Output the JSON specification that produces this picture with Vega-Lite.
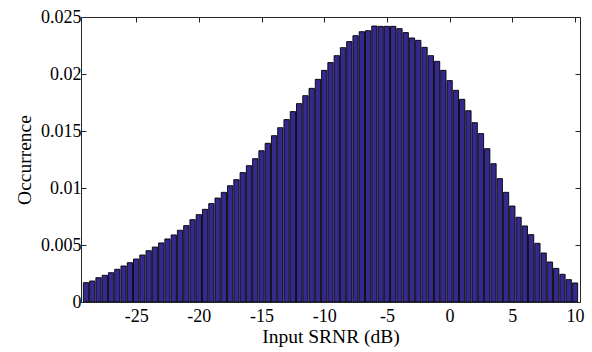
{
  "$schema": "https://vega.github.io/schema/vega-lite/v6.json",
  "width": 499,
  "height": 285,
  "autosize": {"type": "none"},
  "padding": {"left": 81, "top": 17, "right": 12, "bottom": 50},
  "background": "white",
  "config": {
    "font": "Liberation Serif",
    "view": {"stroke": null},
    "axis": {
      "labelFont": "Liberation Serif",
      "titleFont": "Liberation Serif",
      "labelFontSize": 18,
      "titleFontSize": 19.5,
      "titleFontWeight": "normal",
      "labelColor": "#000000",
      "titleColor": "#000000",
      "domainColor": "#262626",
      "tickColor": "#262626",
      "tickSize": -5,
      "grid": false
    }
  },
  "data": {
    "values": [
      {"c": -29, "p": 0.0017}, {"c": -28.5, "p": 0.00184}, {"c": -28, "p": 0.00213}, {"c": -27.5, "p": 0.00234},
      {"c": -27, "p": 0.00257}, {"c": -26.5, "p": 0.00287}, {"c": -26, "p": 0.00316}, {"c": -25.5, "p": 0.00345},
      {"c": -25, "p": 0.00377}, {"c": -24.5, "p": 0.00412}, {"c": -24, "p": 0.0045}, {"c": -23.5, "p": 0.00482},
      {"c": -23, "p": 0.00518}, {"c": -22.5, "p": 0.00553}, {"c": -22, "p": 0.00588}, {"c": -21.5, "p": 0.00629},
      {"c": -21, "p": 0.0067}, {"c": -20.5, "p": 0.00722}, {"c": -20, "p": 0.00766}, {"c": -19.5, "p": 0.00813},
      {"c": -19, "p": 0.00863}, {"c": -18.5, "p": 0.00912}, {"c": -18, "p": 0.00962}, {"c": -17.5, "p": 0.0102},
      {"c": -17, "p": 0.01073}, {"c": -16.5, "p": 0.01135}, {"c": -16, "p": 0.01196}, {"c": -15.5, "p": 0.01257},
      {"c": -15, "p": 0.01327}, {"c": -14.5, "p": 0.01392}, {"c": -14, "p": 0.01459}, {"c": -13.5, "p": 0.01529},
      {"c": -13, "p": 0.016}, {"c": -12.5, "p": 0.0167}, {"c": -12, "p": 0.0174}, {"c": -11.5, "p": 0.0181},
      {"c": -11, "p": 0.01874}, {"c": -10.5, "p": 0.01953}, {"c": -10, "p": 0.02032}, {"c": -9.5, "p": 0.021},
      {"c": -9, "p": 0.02161}, {"c": -8.5, "p": 0.02231}, {"c": -8, "p": 0.02284}, {"c": -7.5, "p": 0.02336},
      {"c": -7, "p": 0.02371}, {"c": -6.5, "p": 0.0238}, {"c": -6, "p": 0.02421}, {"c": -5.5, "p": 0.02418},
      {"c": -5, "p": 0.02418}, {"c": -4.5, "p": 0.02418}, {"c": -4, "p": 0.02398}, {"c": -3.5, "p": 0.02363},
      {"c": -3, "p": 0.02316}, {"c": -2.5, "p": 0.02295}, {"c": -2, "p": 0.02234}, {"c": -1.5, "p": 0.02161},
      {"c": -1, "p": 0.02111}, {"c": -0.5, "p": 0.02032}, {"c": 0, "p": 0.01942}, {"c": 0.5, "p": 0.01857},
      {"c": 1, "p": 0.01778}, {"c": 1.5, "p": 0.01678}, {"c": 2, "p": 0.01573}, {"c": 2.5, "p": 0.01477},
      {"c": 3, "p": 0.01345}, {"c": 3.5, "p": 0.01213}, {"c": 4, "p": 0.01082}, {"c": 4.5, "p": 0.00962},
      {"c": 5, "p": 0.00842}, {"c": 5.5, "p": 0.00743}, {"c": 6, "p": 0.00667}, {"c": 6.5, "p": 0.00591},
      {"c": 7, "p": 0.00515}, {"c": 7.5, "p": 0.0043}, {"c": 8, "p": 0.00351}, {"c": 8.5, "p": 0.00295},
      {"c": 9, "p": 0.00243}, {"c": 9.5, "p": 0.00196}, {"c": 10, "p": 0.00167}
    ]
  },
  "layer": [
    {
      "mark": {"type": "bar", "size": 5.3, "fill": "#35298f", "stroke": "#000000", "strokeWidth": 0.9, "clip": true, "cornerRadius": 0},
      "encoding": {
        "x": {
          "field": "c", "type": "quantitative",
          "scale": {"domain": [-29, 10], "nice": false, "zero": false},
          "axis": {"orient": "bottom", "values": [-25, -20, -15, -10, -5, 0, 5, 10], "labelExpr": "'' + datum.value", "title": "Input SRNR (dB)", "labelPadding": 10, "titlePadding": 2, "labelFlush": false}
        },
        "y": {
          "field": "p", "type": "quantitative",
          "scale": {"domain": [0, 0.025], "nice": false},
          "axis": {"orient": "left", "values": [0, 0.005, 0.01, 0.015, 0.02, 0.025], "format": "~g", "title": "Occurrence", "labelPadding": 5, "titlePadding": 6}
        }
      }
    },
    {
      "mark": {"type": "bar", "opacity": 0, "size": 1},
      "encoding": {
        "x": {
          "field": "c", "type": "quantitative",
          "scale": {"domain": [-29, 10], "nice": false, "zero": false},
          "axis": {"orient": "top", "values": [-25, -20, -15, -10, -5, 0, 5, 10], "labels": false, "title": null}
        },
        "y": {
          "field": "p", "type": "quantitative",
          "scale": {"domain": [0, 0.025], "nice": false},
          "axis": {"orient": "right", "values": [0, 0.005, 0.01, 0.015, 0.02, 0.025], "labels": false, "title": null}
        }
      }
    }
  ],
  "resolve": {"axis": {"x": "independent", "y": "independent"}}
}
